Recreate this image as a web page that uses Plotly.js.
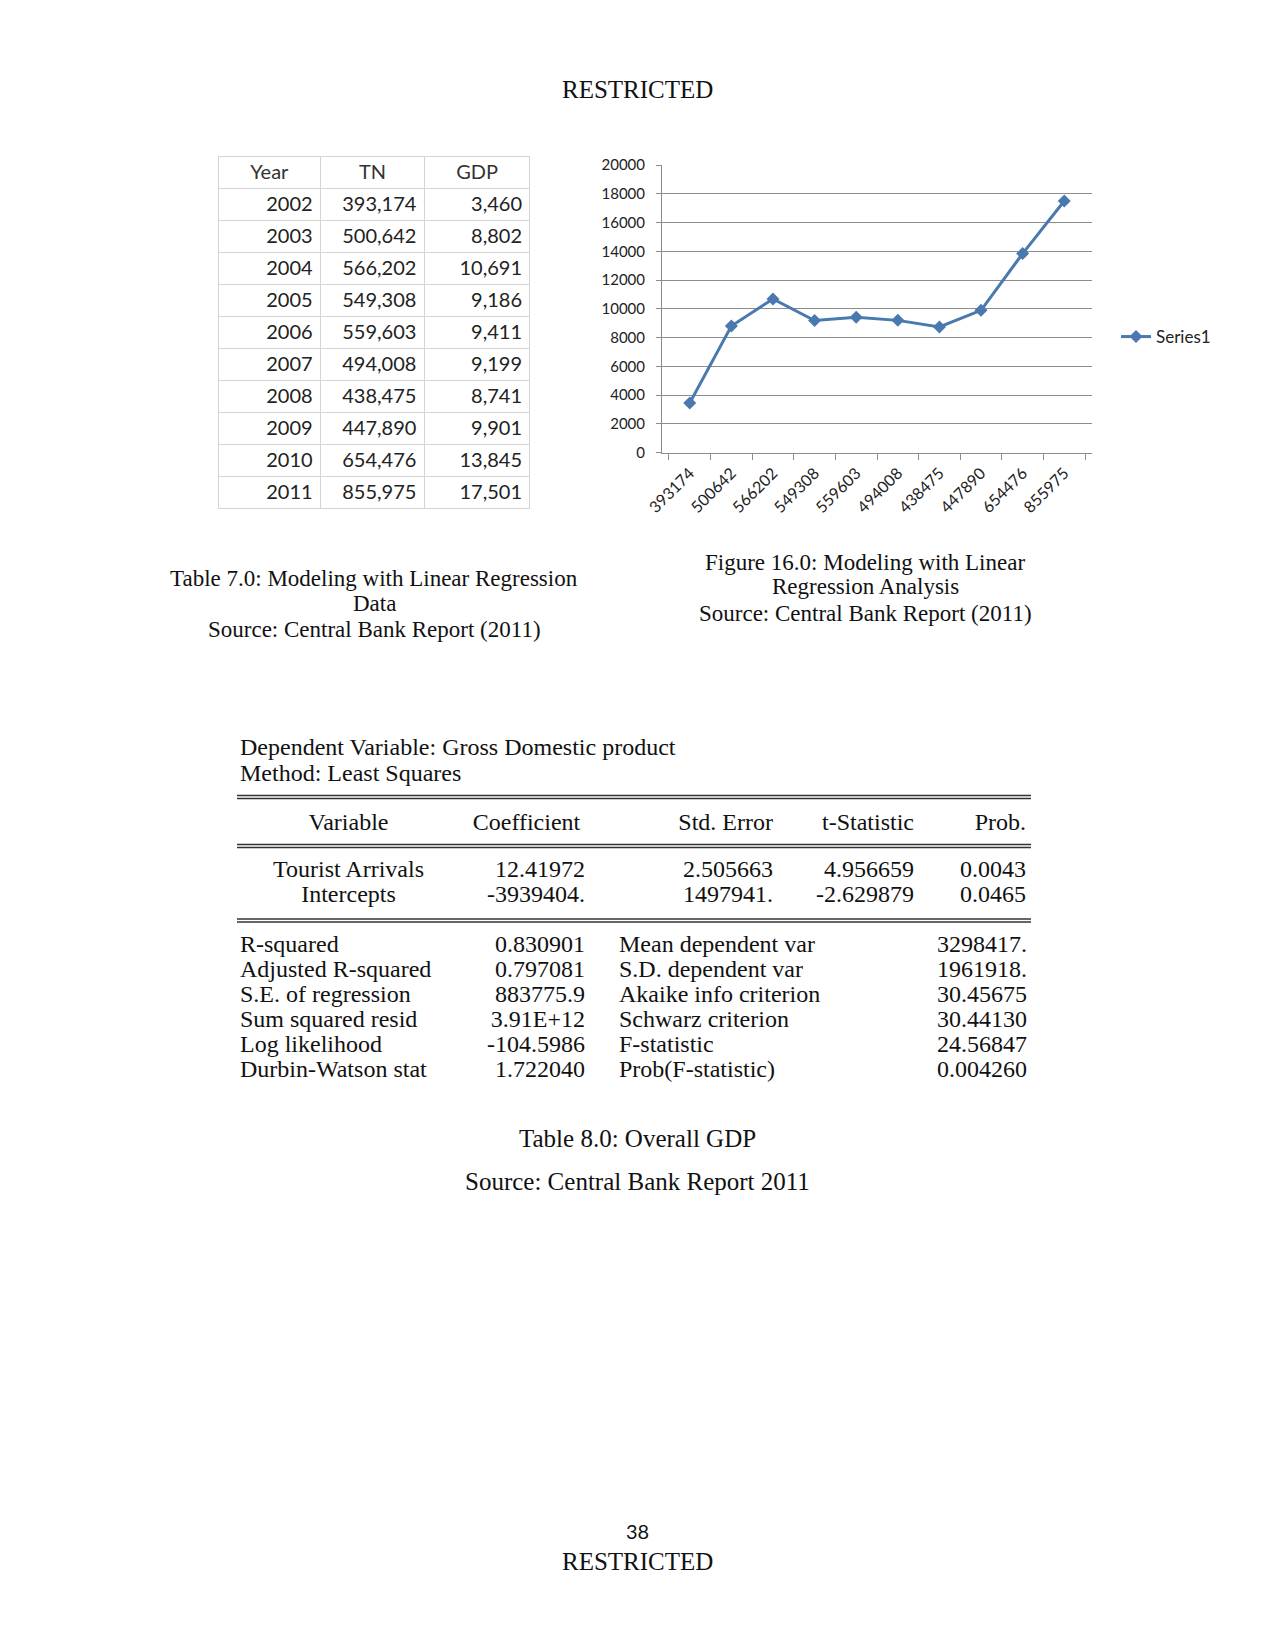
<!DOCTYPE html>
<html>
<head>
<meta charset="utf-8">
<script src="https://cdn.plot.ly/plotly-3.0.1.min.js"></script>
<style>
  html, body { margin: 0; padding: 0; background: #fff; }
  #page { width: 1275px; height: 1650px; }
</style>
</head>
<body>
<div id="page"></div>
<script>
// table 7.0 / figure 16.0 data
let years = [2002, 2003, 2004, 2005, 2006, 2007, 2008, 2009, 2010, 2011];
let touristArrivals = [393174, 500642, 566202, 549308, 559603, 494008, 438475, 447890, 654476, 855975];
let gdp = [3460, 8802, 10691, 9186, 9411, 9199, 8741, 9901, 13845, 17501];

// table 8.0 (regression output)
let regHeader = ["Variable", "Coefficient", "Std. Error", "t-Statistic", "Prob."];
let regVariable = ["Tourist Arrivals", "Intercepts"];
let regCoef = ["12.41972", "-3939404."];
let regStdErr = ["2.505663", "1497941."];
let regTStat = ["4.956659", "-2.629879"];
let regProb = ["0.0043", "0.0465"];

let statLabelsLeft = ["R-squared", "Adjusted R-squared", "S.E. of regression", "Sum squared resid", "Log likelihood", "Durbin-Watson stat"];
let statValuesLeft = ["0.830901", "0.797081", "883775.9", "3.91E+12", "-104.5986", "1.722040"];
let statLabelsRight = ["Mean dependent var", "S.D. dependent var", "Akaike info criterion", "Schwarz criterion", "F-statistic", "Prob(F-statistic)"];
let statValuesRight = ["3298417.", "1961918.", "30.45675", "30.44130", "24.56847", "0.004260"];

// page pixels -> paper fractions
let W = 1275, H = 1650;
let px = v => v / W;
let py = v => 1 - v / H;

let serif = "Liberation Serif, Times New Roman, serif";
let sans = "Lato, Carlito, Calibri, sans-serif";
let lineBlue = "#4a79b0";
let gridGrey = "#8c8c8c";

let fmt = v => v.toLocaleString("en-US");

// Excel table
let excelTable = {
    type: "table",
    domain: { x: [px(218), px(531)], y: [py(520), py(156)] },
    columnwidth: [103, 104, 106],
    header: {
        values: ["Year", "TN", "GDP"],
        align: "center",
        height: 32,
        font: { family: sans, size: 20, color: "#333" },
        line: { color: "#d4d4d4", width: 1 },
        fill: { color: "white" }
    },
    cells: {
        values: [years.map(String), touristArrivals.map(fmt), gdp.map(fmt)],
        align: "right",
        height: 32,
        font: { family: sans, size: 20, color: "#222" },
        line: { color: "#d4d4d4", width: 1 },
        fill: { color: "white" }
    }
};

// line chart
let gdpLine = {
    type: "scatter",
    mode: "lines+markers",
    name: "Series1",
    x: touristArrivals.map(String),
    y: gdp,
    line: { color: lineBlue, width: 3 },
    marker: { symbol: "diamond", size: 10, color: lineBlue }
};

// regression coefficients
let regTop = {
    type: "table",
    domain: { x: [px(237), px(1034)], y: [py(915), py(804)] },
    columnwidth: [223, 133, 188, 141, 112],
    header: {
        values: regHeader,
        align: ["center", "center", "right", "right", "right"],
        height: 47,
        font: { family: serif, size: 24, color: "#111" },
        line: { width: 0, color: "rgba(0,0,0,0)" },
        fill: { color: "rgba(0,0,0,0)" }
    },
    cells: {
        values: [regVariable, regCoef, regStdErr, regTStat, regProb],
        align: ["center", "right", "right", "right", "right"],
        height: 25,
        font: { family: serif, size: 24, color: "#111" },
        line: { width: 0, color: "rgba(0,0,0,0)" },
        fill: { color: "rgba(0,0,0,0)" }
    }
};

// regression statistics (first row goes in the header slot)
let statCols = [statLabelsLeft, statValuesLeft, statLabelsLeft.map(() => ""), statLabelsRight, statValuesRight];
let regBottom = {
    type: "table",
    domain: { x: [px(232), px(1035)], y: [py(1100), py(926)] },
    columnwidth: [236, 125, 18, 269, 155],
    header: {
        values: statCols.map(c => [c[0]]),
        align: ["left", "right", "left", "left", "right"],
        height: 25,
        font: { family: serif, size: 24, color: "#111" },
        line: { width: 0, color: "rgba(0,0,0,0)" },
        fill: { color: "rgba(0,0,0,0)" }
    },
    cells: {
        values: statCols.map(c => c.slice(1)),
        align: ["left", "right", "left", "left", "right"],
        height: 25,
        font: { family: serif, size: 24, color: "#111" },
        line: { width: 0, color: "rgba(0,0,0,0)" },
        fill: { color: "rgba(0,0,0,0)" }
    }
};

// double rules of the regression table
let shapes = [];
[[795.5, 798.5], [844.5, 847.5], [919, 922]].forEach(pair => {
    pair.forEach(y => {
        shapes.push({
            type: "line", xref: "paper", yref: "paper",
            x0: px(237), x1: px(1031), y0: py(y), y1: py(y),
            line: { color: "#333", width: 1.6 }
        });
    });
});

function label(text, x, y, size, font, anchor) {
    return {
        text: text, xref: "paper", yref: "paper",
        x: px(x), y: py(y), xanchor: anchor || "center", yanchor: "middle",
        showarrow: false,
        font: { family: font || serif, size: size || 25, color: "#111" }
    };
}

let annotations = [
    label("RESTRICTED", 637, 89),
    label("Table 7.0: Modeling with Linear Regression", 374, 578, 23),
    label("Data", 374, 603, 23),
    label("Source: Central Bank Report (2011)", 374, 629, 23),
    label("Figure 16.0: Modeling with Linear", 865, 562, 23),
    label("Regression Analysis", 865, 587, 23),
    label("Source: Central Bank Report (2011)", 865, 614, 23),
    label("Dependent Variable: Gross Domestic product", 238, 747, 24, serif, "left"),
    label("Method: Least Squares", 238, 773, 24, serif, "left"),
    label("Table 8.0: Overall GDP", 637, 1138),
    label("Source: Central Bank Report 2011", 637, 1181),
    label("38", 637, 1531, 20, sans),
    label("RESTRICTED", 637, 1561)
];

let layout = {
    width: W,
    height: H,
    margin: { l: 0, r: 0, t: 0, b: 0 },
    paper_bgcolor: "white",
    plot_bgcolor: "white",
    showlegend: true,
    legend: {
        x: px(1116), y: py(337), xanchor: "left", yanchor: "middle",
        font: { family: sans, size: 17, color: "#222" },
        bgcolor: "rgba(0,0,0,0)"
    },
    xaxis: {
        domain: [px(662), px(1092)],
        type: "category",
        showline: true,
        linecolor: gridGrey,
        ticks: "outside",
        tickson: "boundaries",
        ticklen: 6,
        tickcolor: gridGrey,
        tickangle: -45,
        ticklabelstandoff: 4,
        showgrid: false,
        tickfont: { family: sans, size: 16, color: "#222" }
    },
    yaxis: {
        domain: [py(452.7), py(165)],
        range: [0, 20000],
        dtick: 2000,
        tickformat: "d",
        showline: true,
        linecolor: gridGrey,
        ticks: "outside",
        ticklen: 5,
        tickcolor: gridGrey,
        ticklabelstandoff: 8,
        gridcolor: gridGrey,
        zeroline: false,
        tickfont: { family: sans, size: 15, color: "#222" }
    },
    shapes: shapes,
    annotations: annotations
};

Plotly.newPlot("page", [excelTable, gdpLine, regTop, regBottom], layout, { displayModeBar: false });
</script>
</body>
</html>
